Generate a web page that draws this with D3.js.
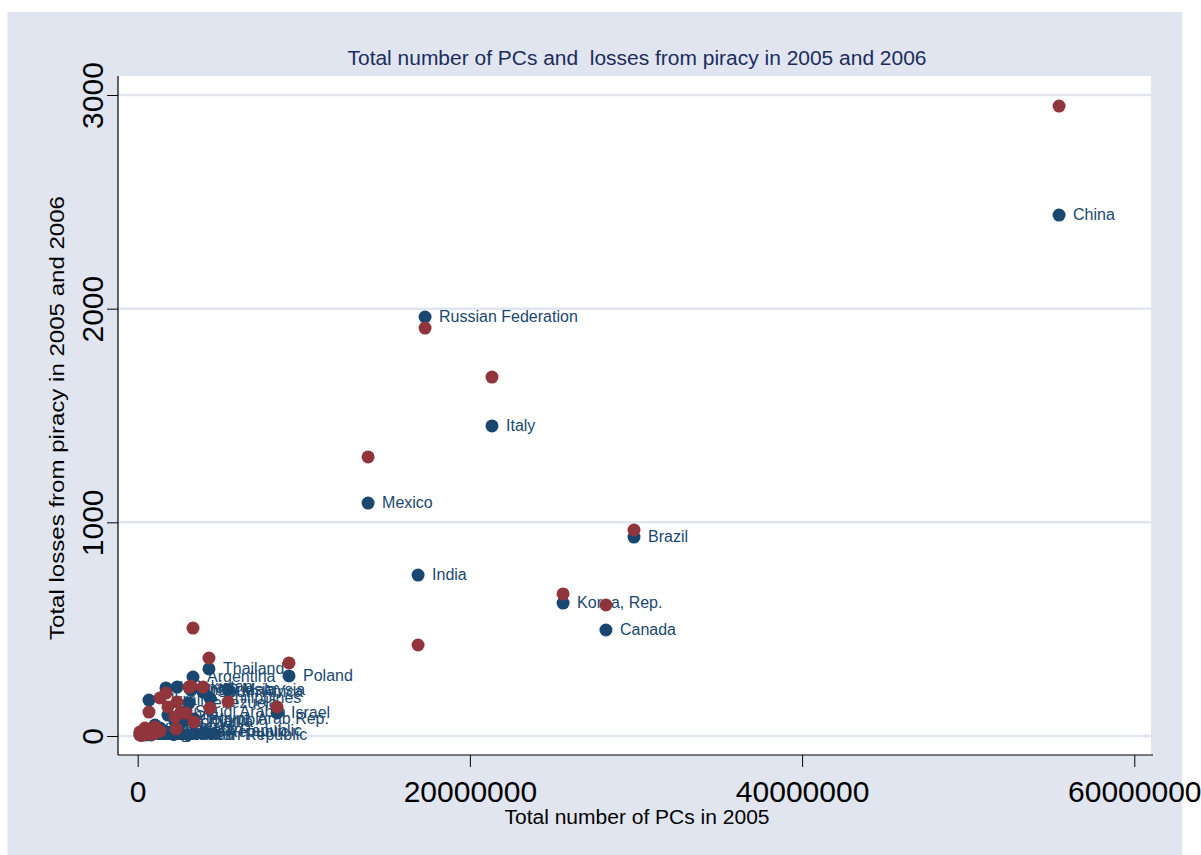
<!DOCTYPE html>
<html>
<head>
<meta charset="utf-8">
<script src="https://cdn.jsdelivr.net/npm/d3@7"></script>
<style>
  html, body { margin: 0; padding: 0; background: #ffffff; }
  svg { display: block; }
  text { font-family: "Liberation Sans", Arial, sans-serif; }
</style>
</head>
<body>
<svg id="chart" width="1201" height="855"></svg>
<script>
// ---- data ----
const countries = [
  "China", "Russian Federation", "Italy", "Mexico", "India", "Brazil", "Korea, Rep.", "Canada",
  "Thailand", "Argentina", "Poland", "Indonesia", "Malaysia", "South Africa", "Philippines",
  "Saudi Arabia", "Israel", "Egypt, Arab Rep.", "Czech Republic", "Vietnam", "Pakistan",
  "Ukraine", "Venezuela", "Colombia", "Chile", "Peru", "Romania", "Hungary", "Kazakhstan",
  "Nigeria", "Morocco", "Bulgaria", "Lebanon", "Croatia", "Slovenia", "Kenya", "Algeria",
  "Tunisia", "Ecuador", "Costa Rica", "Dominican Republic", "Slovak Republic", "Oman", "Kuwait"
];
const pcs2005 = [
  55470000, 17300000, 21330000, 13870000, 16880000, 29880000, 25610000, 28190000,
  4290000, 3330000, 9110000, 3210000, 5440000, 3930000, 4350000,
  2610000, 8390000, 3390000, 2310000, 1700000, 2370000,
  680000, 3090000, 2910000, 1820000, 1040000, 2250000, 1340000, 440000,
  140000, 740000, 320000, 200000, 860000, 500000, 380000, 1040000,
  620000, 560000, 260000, 800000, 1340000, 140000, 440000
];
const losses2005 = [
  2438, 1961, 1451, 1090, 753, 931, 622, 496,
  314, 276, 281, 215, 215, 206, 178,
  112, 108, 80, 23, 225, 229,
  168, 154, 75, 98, 51, 66, 37, 28,
  14, 19, 9, 5, 9, 5, 9, 14,
  9, 14, 5, 5, 19, 5, 14
];
const losses2006 = [
  2948, 1909, 1680, 1306, 426, 964, 665, 613,
  365, 505, 342, 234, 159, 229, 131,
  108, 136, 66, 33, 201, 159,
  112, 229, 108, 136, 42, 89, 178, 37,
  19, 23, 5, 5, 9, 9, 14, 14,
  14, 14, 5, 9, 23, 5, 9
];
const xTicks = [0, 20000000, 40000000, 60000000];
const yTicks = [0, 1000, 2000, 3000];
const titleText = "Total number of PCs and  losses from piracy in 2005 and 2006";
const xTitle = "Total number of PCs in 2005";
const yTitle = "Total losses from piracy in 2005 and 2006";

// ---- layout ----
const bg = "#e0e5f0";
const navy = "#1a476f";
const maroon = "#90353b";
const plot = { left: 118, right: 1151, top: 76, bottom: 755 };

const svg = d3.select("#chart");

svg.append("rect").attr("x", 7.5).attr("y", 12).attr("width", 1174.5).attr("height", 843).attr("fill", bg);
svg.append("rect").attr("x", plot.left).attr("y", plot.top)
  .attr("width", plot.right - plot.left).attr("height", plot.bottom - plot.top).attr("fill", "#ffffff");

const x = d3.scaleLinear().domain([0, 60000000]).range([137.7, 1134.3]);
const y = d3.scaleLinear().domain([0, 3000]).range([736, 95]);

// gridlines
svg.append("g").selectAll("line").data(yTicks).join("line")
  .attr("x1", plot.left).attr("x2", plot.right)
  .attr("y1", d => y(d)).attr("y2", d => y(d))
  .attr("stroke", bg).attr("stroke-width", 2.5);

// axes
const yAxis = svg.append("g").attr("transform", `translate(${plot.left},0)`)
  .call(d3.axisLeft(y).tickValues(yTicks).tickSize(11).tickFormat(d3.format("d")));
yAxis.select(".domain").remove();
yAxis.selectAll(".tick line").attr("stroke", "#000");
yAxis.selectAll(".tick text")
  .attr("x", null).attr("dy", null)
  .attr("transform", "translate(-15,0) rotate(-90)")
  .attr("text-anchor", "middle")
  .attr("font-size", 30).attr("fill", "#000")
  .attr("font-family", "'Liberation Sans', Arial, sans-serif");

const xAxis = svg.append("g").attr("transform", `translate(0,${plot.bottom})`)
  .call(d3.axisBottom(x).tickValues(xTicks).tickSize(12).tickFormat(d3.format("d")));
xAxis.select(".domain").remove();
xAxis.selectAll(".tick line").attr("stroke", "#000");
xAxis.selectAll(".tick text")
  .attr("y", 47).attr("dy", null)
  .attr("font-size", 30).attr("fill", "#000")
  .attr("font-family", "'Liberation Sans', Arial, sans-serif");

svg.append("line").attr("x1", plot.left).attr("x2", plot.left)
  .attr("y1", plot.top).attr("y2", plot.bottom).attr("stroke", "#000").attr("stroke-width", 1.2);
svg.append("line").attr("x1", plot.left).attr("x2", 1153)
  .attr("y1", plot.bottom).attr("y2", plot.bottom).attr("stroke", "#000").attr("stroke-width", 1.2);

// data rows
const rows = countries.map((c, i) => ({ c, pcs: pcs2005[i], a: losses2005[i], b: losses2006[i] }));

// series 1 (2005) with labels
svg.append("g").selectAll("circle").data(rows).join("circle")
  .attr("cx", d => x(d.pcs)).attr("cy", d => y(d.a)).attr("r", 6.5).attr("fill", navy);
svg.append("g").selectAll("text").data(rows).join("text")
  .attr("x", d => x(d.pcs) + 14).attr("y", d => y(d.a) + 1)
  .attr("dominant-baseline", "middle")
  .attr("font-size", 16).attr("fill", navy)
  .text(d => d.c);

// series 2 (2006)
svg.append("g").selectAll("circle").data(rows).join("circle")
  .attr("cx", d => x(d.pcs)).attr("cy", d => y(d.b)).attr("r", 6.5).attr("fill", maroon);

// titles
svg.append("text").attr("x", 637).attr("y", 65).attr("text-anchor", "middle")
  .attr("font-size", 20).attr("fill", "#1c2c5c")
  .attr("textLength", 579).attr("lengthAdjust", "spacingAndGlyphs")
  .style("white-space", "pre").text(titleText);
svg.append("text").attr("x", 637).attr("y", 824).attr("text-anchor", "middle")
  .attr("font-size", 20).attr("fill", "#000")
  .attr("textLength", 265).attr("lengthAdjust", "spacingAndGlyphs")
  .text(xTitle);
svg.append("text").attr("transform", "translate(64,418) rotate(-90)").attr("text-anchor", "middle")
  .attr("font-size", 20).attr("fill", "#000")
  .attr("textLength", 444).attr("lengthAdjust", "spacingAndGlyphs")
  .text(yTitle);
</script>
</body>
</html>
